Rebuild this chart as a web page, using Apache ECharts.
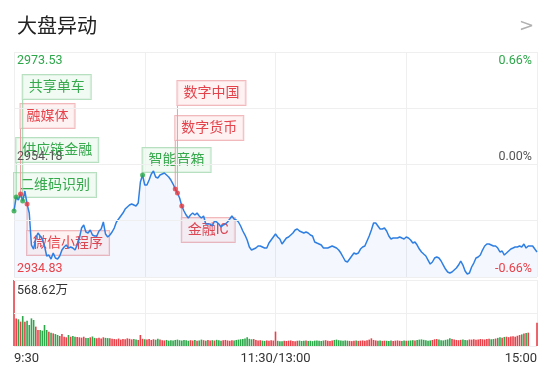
<!DOCTYPE html>
<html><head><meta charset="utf-8">
<script src="https://cdn.jsdelivr.net/npm/echarts@6/dist/echarts.min.js"></script>
<style>html,body{margin:0;padding:0;background:#fff}#c{width:550px;height:371px}</style>
</head><body><div id="c"></div>
<script>
// ---------- data ----------
const titleText = '大盘异动';
const prevClose = 2954.18;
const priceMax = 2973.53;
const priceMin = 2934.83;
const pctMax = '0.66%';
const pctMid = '0.00%';
const pctMin = '-0.66%';
const volMax = 568.62;
const volMaxLabel = '568.62万';
const timeLabels = ['9:30', '11:30/13:00', '15:00'];

const prices = [
2946.18,2948.59,2948.07,2949.10,2947.90,2949.62,2947.38,2945.83,2940.33,2939.64,
2941.53,2942.39,2941.88,2941.36,2940.16,2938.44,2938.61,2937.92,2938.95,2938.09,
2937.92,2938.44,2939.47,2939.99,2940.33,2939.81,2939.99,2939.81,2939.47,2940.33,
2941.53,2943.25,2943.77,2942.57,2942.39,2942.91,2942.05,2941.88,2941.88,2942.74,
2943.08,2944.29,2942.22,2941.71,2942.05,2942.57,2943.25,2944.29,2944.80,2945.32,
2945.83,2946.52,2946.87,2947.21,2947.38,2947.21,2947.04,2947.55,2951.17,2952.37,
2950.65,2950.65,2951.51,2952.54,2953.06,2952.03,2951.85,2952.37,2952.54,2952.71,
2952.37,2952.03,2951.51,2950.82,2949.96,2949.27,2948.41,2947.04,2946.18,2945.49,
2944.97,2945.49,2945.83,2945.49,2945.83,2945.32,2944.97,2945.32,2943.94,2943.94,
2943.94,2943.60,2944.46,2944.29,2943.94,2943.43,2943.77,2943.94,2944.29,2944.80,
2945.32,2944.80,2944.63,2944.29,2943.60,2942.74,2942.05,2941.19,2939.99,2939.47,
2939.64,2939.81,2940.16,2940.16,2939.99,2939.81,2939.81,2940.67,2941.19,2941.71,
2942.22,2941.71,2941.36,2940.50,2941.02,2941.53,2941.71,2942.05,2942.39,2942.91,
2943.08,2942.74,2942.57,2942.39,2942.57,2942.39,2942.05,2941.88,2940.85,2940.67,
2940.50,2940.33,2939.81,2939.81,2939.81,2939.99,2940.16,2939.99,2939.81,2939.47,
2938.95,2938.27,2937.58,2937.41,2937.92,2938.44,2938.95,2938.78,2938.95,2939.64,
2939.99,2940.16,2941.02,2941.88,2942.91,2944.11,2944.11,2943.60,2943.08,2943.08,
2943.25,2942.74,2941.88,2941.36,2941.53,2941.53,2941.53,2941.71,2941.53,2941.36,
2941.71,2941.53,2941.19,2940.67,2940.85,2940.33,2939.64,2939.13,2938.78,2938.44,
2937.75,2937.06,2937.41,2938.09,2938.27,2938.09,2937.58,2936.89,2936.20,2935.69,
2935.51,2935.69,2936.03,2936.37,2936.89,2937.58,2936.89,2935.86,2935.34,2935.51,
2936.55,2937.23,2938.09,2938.27,2938.61,2939.47,2940.16,2940.50,2940.50,2940.33,
2940.16,2940.16,2939.81,2939.13,2939.30,2938.61,2938.95,2939.30,2939.64,2939.81,
2939.99,2939.99,2940.16,2939.99,2940.50,2939.81,2940.16,2940.16,2940.16,2939.64,
2939.13
];

const volumes = [
568.62,
238,230,210,258,210,218,181,238,224,167,138,138,132,
181,138,123,115,109,103,95,86,103,80,75,95,80,86,80,
78,75,72,80,70,68,75,82,70,66,72,64,75,70,68,66,
62,60,58,64,55,60,58,66,62,57,60,55,52,95,62,58,55,60,52,58,54,62,57,50,48,52,46,50,48,52,55,50,47,52,49,45,
50,47,52,45,48,55,50,46,52,48,50,47,53,49,46,50,52,48,45,50,47,52,55,58,60,64,75,62,58,60,52,48,50,46,44,48,45,50,47,
124,
45,40,42,45,43,46,48,44,42,45,47,43,46,48,44,45,42,46,48,45,43,47,50,46,44,48,52,55,50,47,45,48,46,44,42,45,47,44,46,48,
45,50,55,66,52,48,45,47,44,46,45,43,47,44,46,48,45,44,47,45,46,48,50,47,52,55,57,53,50,46,48,52,58,60,55,50,48,53,57,66,
60,55,52,50,53,55,52,50,56,55,58,54,57,60,58,56,60,62,58,60,64,
70,75,72,78,80,76,82,85,80,88,95,100,108,112,115,
0,0,0,
201
];
// bars that are drawn red regardless of the minute-to-minute price move (call auctions)
const volRedIndex = [0, 240];

const annoNames   = ['二维码识别', '供应链金融', '融媒体', '共享单车', '微信小程序', '智能音箱', '数字货币', '数字中国', '金融IC'];
const annoMinutes = [0, 1, 3, 4, 6, 59, 74, 75, 77];
const annoKind    = ['g', 'g', 'r', 'g', 'r', 'g', 'r', 'r', 'r'];

// ---------- layout / style (not data) ----------
const annoBoxTop = [173, 138, 104, 75, 231, 148, 116, 81, 218];
const FONT = 'Roboto, "Noto Sans CJK SC", sans-serif';
const RED = '#e8414a', GREEN = '#2ea74b';
const STY = {
  r: {text: '#e5434b', bg: 'rgba(253,238,239,0.75)', border: '#f1b9bc', line: '#ee9ca1', dot: '#e83a3f'},
  g: {text: '#35a94c', bg: 'rgba(236,248,239,0.75)', border: '#b6e0c0', line: '#98d3a6', dot: '#2ba846'}
};

const chart = echarts.init(document.getElementById('c'), null, {renderer: 'canvas'});

const priceData = prices.map((p, i) => [i, p]);
const volData = volumes.map((v, i) => ({
  value: [i, v],
  itemStyle: {color: (volRedIndex.includes(i) || prices[i] >= prices[i - 1]) ? RED : GREEN}
}));
const annoData = annoMinutes.map(m => [m, prices[m]]);

const gridLineStyle = {color: '#efefef', width: 1, type: 'solid'};
const priceLines = [priceMin, priceMin + (priceMax - priceMin) / 4, prevClose, priceMin + 3 * (priceMax - priceMin) / 4, priceMax];
const volLines = [0, volMax / 2, volMax];

chart.setOption({
  animation: false,
  title: {text: titleText, left: 12, top: 13, textStyle: {fontSize: 20, fontWeight: 'normal', color: '#222', fontFamily: FONT}},
  grid: [
    {left: 14, right: 13, top: 52, height: 225},
    {left: 14, right: 13, top: 280, height: 66}
  ],
  xAxis: [
    {type: 'value', gridIndex: 0, min: 0, max: 240, interval: 60,
      axisLine: {show: false}, axisTick: {show: false}, axisLabel: {show: false},
      splitLine: {show: true, lineStyle: gridLineStyle}},
    {type: 'value', gridIndex: 1, min: 0, max: 240, interval: 60,
      axisLine: {show: false}, axisTick: {show: false},
      splitLine: {show: true, lineStyle: gridLineStyle},
      axisLabel: {
        color: '#333', fontSize: 13, fontFamily: FONT, margin: 6,
        alignMinLabel: 'left', alignMaxLabel: 'right',
        formatter: v => v === 0 ? timeLabels[0] : (v === 120 ? timeLabels[1] : (v === 240 ? timeLabels[2] : ''))
      }}
  ],
  yAxis: [
    {type: 'value', gridIndex: 0, min: priceMin, max: priceMax,
      axisLine: {show: false}, axisTick: {show: false}, axisLabel: {show: false}, splitLine: {show: false}},
    {type: 'value', gridIndex: 1, min: 0, max: volMax,
      axisLine: {show: false}, axisTick: {show: false}, axisLabel: {show: false}, splitLine: {show: false}}
  ],
  series: [
    {
      type: 'line', xAxisIndex: 0, yAxisIndex: 0, data: priceData, showSymbol: false, z: 3,
      lineStyle: {color: '#2f7fe3', width: 1.5},
      areaStyle: {color: 'rgba(60,130,235,0.08)', origin: 'start'},
      markLine: {silent: true, symbol: 'none', label: {show: false}, lineStyle: gridLineStyle, animation: false,
        data: priceLines.map(v => ({yAxis: v}))}
    },
    {
      type: 'custom', xAxisIndex: 0, yAxisIndex: 0, data: annoData, z: 2, silent: true,
      renderItem: (params, api) => {
        const i = params.dataIndex;
        const pt = api.coord([api.value(0), api.value(1)]);
        const s = STY[annoKind[i]];
        const top = annoBoxTop[i];
        const boxH = 24;
        const endY = top > pt[1] ? top : top + boxH;
        return {type: 'group', children: [
          {type: 'line', shape: {x1: pt[0], y1: pt[1], x2: pt[0], y2: endY}, style: {stroke: s.line, lineWidth: 1}},
          {type: 'text', x: pt[0], y: top, style: {
            text: annoNames[i], fill: s.text, fontSize: 14, fontFamily: FONT, lineHeight: 16,
            align: 'left', verticalAlign: 'top',
            backgroundColor: s.bg, borderColor: s.border, borderWidth: 1, padding: [4, 6, 4, 6]
          }}
        ]};
      }
    },
    {
      type: 'scatter', xAxisIndex: 0, yAxisIndex: 0, z: 5, symbolSize: 5, silent: true,
      data: annoData.map((d, i) => ({value: d, itemStyle: {color: STY[annoKind[i]].dot}}))
    },
    {
      type: 'bar', xAxisIndex: 1, yAxisIndex: 1, data: volData, barWidth: 1.6, z: 3,
      markLine: {silent: true, symbol: 'none', label: {show: false}, lineStyle: gridLineStyle, animation: false,
        data: volLines.map(v => ({yAxis: v}))}
    }
  ]
});

// value labels placed from the axis scale
const yOf = (v, idx) => chart.convertToPixel({yAxisIndex: idx}, v);
const txt = (text, x, y, color, align) => ({
  type: 'text', x: x, y: y, silent: true, z: 100,
  style: {text: text, fill: color, fontSize: 12.5, fontFamily: FONT, align: align, verticalAlign: 'middle'}
});
chart.setOption({
  graphic: [
    {type: 'text', x: 534, y: 26, z: 100, style: {text: '>', fill: '#b0b0b0', fontSize: 18, fontFamily: 'DejaVu Sans', align: 'right', verticalAlign: 'middle'}},
    txt(priceMax.toFixed(2), 17, yOf(priceMax, 0) + 9, GREEN, 'left'),
    txt(pctMax, 532, yOf(priceMax, 0) + 9, GREEN, 'right'),
    txt(prevClose.toFixed(2), 17, yOf(prevClose, 0) - 8, '#555', 'left'),
    txt(pctMid, 532, yOf(prevClose, 0) - 8, '#555', 'right'),
    txt(priceMin.toFixed(2), 17, yOf(priceMin, 0) - 8, RED, 'left'),
    txt(pctMin, 532, yOf(priceMin, 0) - 8, RED, 'right'),
    txt(volMaxLabel, 17, yOf(volMax, 1) + 11, '#333', 'left')
  ]
});
</script>
</body></html>
